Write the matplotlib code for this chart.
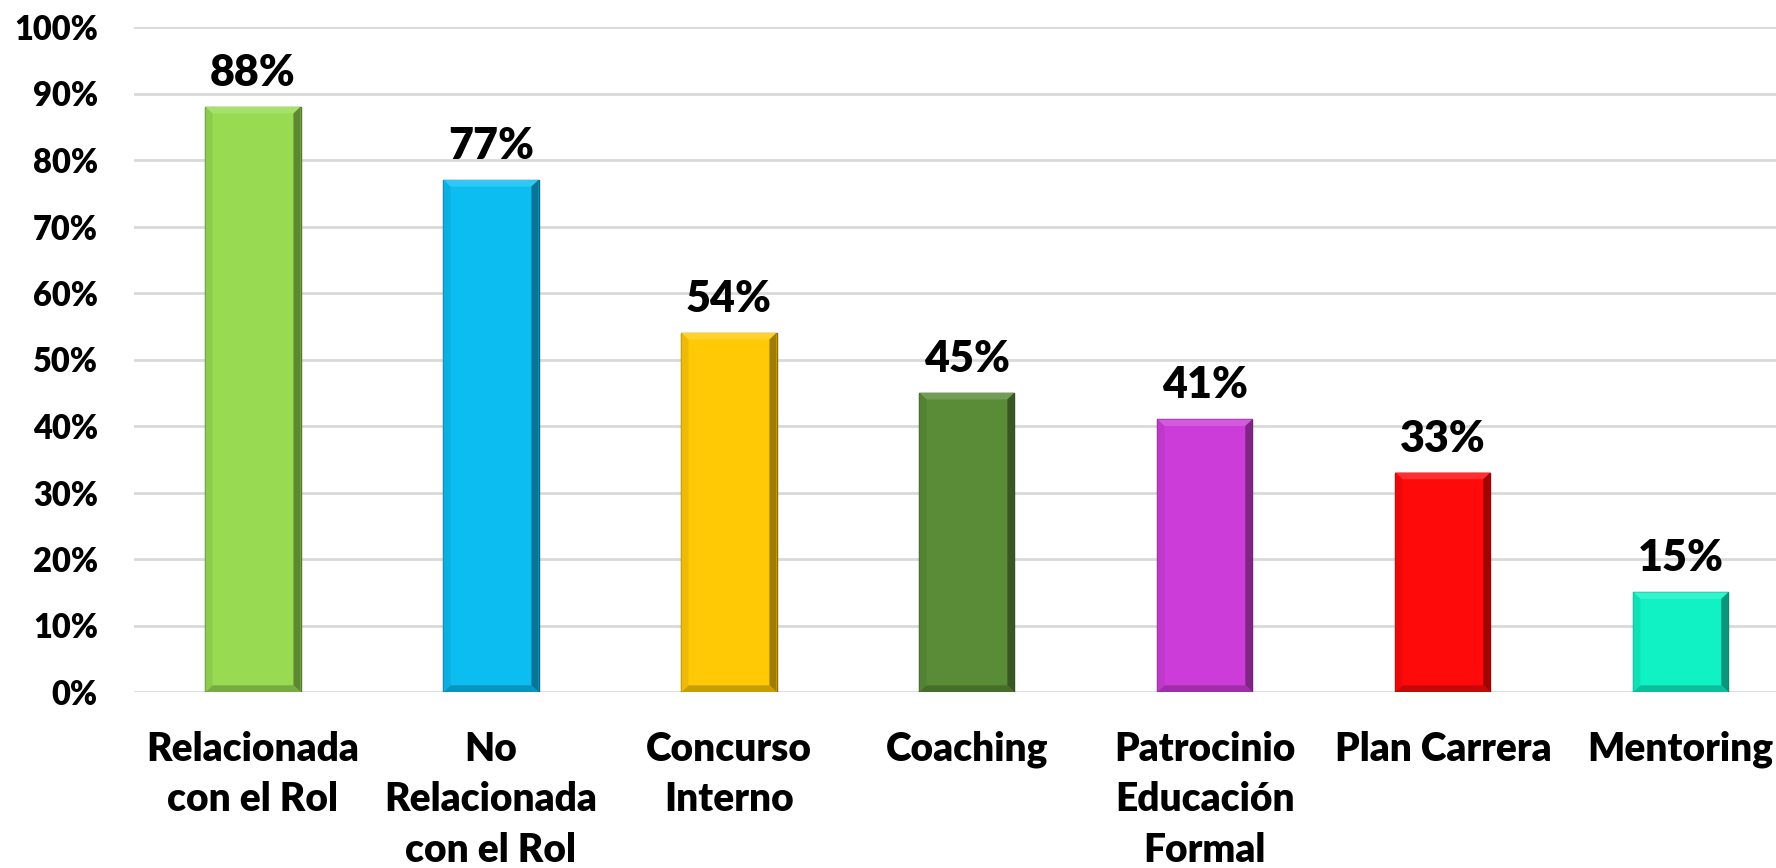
import numpy as np
import matplotlib
matplotlib.use("Agg")
import matplotlib.pyplot as plt
from matplotlib.patches import Polygon
from matplotlib.colors import to_rgb


# Chart data

categories = [
    "Relacionada\ncon el Rol", "No\nRelacionada\ncon el Rol", "Concurso\nInterno",
    "Coaching", "Patrocinio\nEducación\nFormal", "Plan Carrera", "Mentoring"
]
values = [88, 77, 54, 45, 41, 33, 15]
colors = ["#98DA52", "#0CBDF2", "#FFC905", "#5A8C38", "#CC3CD8", "#FF0A0A", "#10F2C4"]
ytick_values = list(range(0, 101, 10))


def shade(color, factor):
    r, g, b = to_rgb(color)
    if factor >= 1:
        return tuple(c + (1 - c) * (factor - 1) for c in (r, g, b))
    return tuple(c * factor for c in (r, g, b))


plt.rcParams["font.family"] = ["Lato", "DejaVu Sans"]

fig = plt.figure(figsize=(17.76, 8.68), dpi=100)
ax = fig.add_axes([134 / 1776, 1 - 692 / 868, 1 - 134 / 1776, 665 / 868])

x = np.arange(len(values))
width = 0.4
bars = ax.bar(x, values, width=width, color=colors, edgecolor=[shade(c, 0.55) for c in colors],
              linewidth=1.0, zorder=3)

# bevel effect on each bar
bx = 0.03
by = 1.0
for xi, v, c in zip(x, values, colors):
    l, r = xi - width / 2, xi + width / 2
    top = [(l, v), (r, v), (r - bx, v - by), (l + bx, v - by)]
    right = [(r, v), (r, 0), (r - bx, by), (r - bx, v - by)]
    bottom = [(l, 0), (r, 0), (r - bx, by), (l + bx, by)]
    left = [(l, 0), (l, v), (l + bx, v - by), (l + bx, by)]
    ax.add_patch(Polygon(top, closed=True, color=shade(c, 1.15), lw=0, zorder=4))
    ax.add_patch(Polygon(right, closed=True, color=shade(c, 0.62), lw=0, zorder=4))
    ax.add_patch(Polygon(bottom, closed=True, color=shade(c, 0.78), lw=0, zorder=4))
    ax.add_patch(Polygon(left, closed=True, color=shade(c, 0.93), lw=0, zorder=4))
    ax.annotate(f"{v}%", (xi, v), xytext=(0, 10), textcoords="offset points",
                ha="center", va="bottom", fontsize=31, fontweight="heavy", color="black")

ax.set_ylim(0, 100)
ax.set_xlim(-0.5, 6.4)
ax.set_yticks(ytick_values)
ax.set_yticklabels([f"{t}%" for t in ytick_values], fontsize=23.5, fontweight="heavy")
ax.set_xticks(x)
ax.set_xticklabels(categories, fontsize=28, fontweight="heavy", linespacing=1.45)
ax.tick_params(axis="y", length=0, pad=26)
ax.tick_params(axis="x", length=0, pad=28)

ax.grid(axis="y", color="#D9D9D9", linewidth=2, zorder=0)
for s in ax.spines.values():
    s.set_visible(False)

fig.savefig("out.png", dpi=100)
